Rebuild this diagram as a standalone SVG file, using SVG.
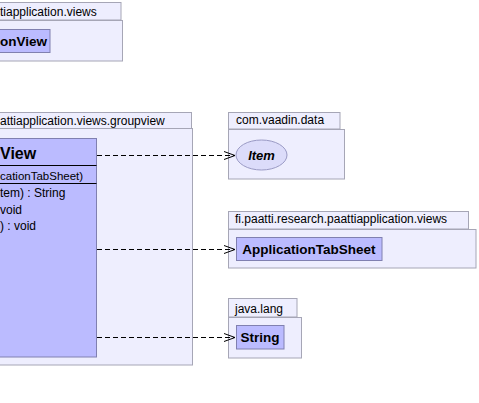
<svg xmlns="http://www.w3.org/2000/svg" width="479" height="403" viewBox="0 0 479 403">
<defs>
<style>
.pkg{fill:#eeeefe;stroke:#a6a6b6;stroke-width:1}
.cls{fill:#bbbbff;stroke:#8080b0;stroke-width:1}
.div{stroke:#000;stroke-width:1}
.lbl{font-family:"Liberation Sans",Arial,sans-serif;font-size:12px;fill:#000}
.nm{font-family:"Liberation Sans",Arial,sans-serif;font-size:13.5px;font-weight:bold;fill:#000}
.dep{fill:none;stroke:#000;stroke-width:1;stroke-dasharray:5,3}
.ah{fill:none;stroke:#000;stroke-width:1}
</style>
<marker id="open" markerWidth="12" markerHeight="10" refX="11" refY="5" orient="auto" markerUnits="userSpaceOnUse">
<path class="ah" d="M0,1 L11,5 L0,9"/>
</marker>
</defs>
<rect width="479" height="403" fill="#ffffff"/>
<g id="pkg-views-top">
<rect class="pkg" x="-5" y="2.5" width="126" height="17.5"/>
<rect class="pkg" x="-5" y="20.5" width="127.5" height="40.5"/>
<text class="lbl" x="0" y="15.5">tiapplication.views</text>
<g id="cls-onView">
<rect class="cls" x="-5" y="29.5" width="55" height="23"/>
<text class="nm" x="0" y="46">onView</text>
</g>
</g>
<g id="pkg-groupview">
<rect class="pkg" x="-5" y="112.5" width="196.5" height="16"/>
<rect class="pkg" x="-5" y="128.5" width="197.5" height="236.5"/>
<text class="lbl" x="0" y="125">attiapplication.views.groupview</text>
<g id="cls-View">
<rect class="cls" x="-5" y="138.5" width="101.5" height="218.5"/>
<text class="nm" x="0" y="159" style="font-size:16px">View</text>
<line class="div" x1="-5" y1="165.5" x2="96.5" y2="165.5"/>
<text class="lbl" x="0" y="180" style="font-size:11.5px">cationTabSheet)</text>
<line class="div" x1="-5" y1="183.5" x2="96.5" y2="183.5"/>
<text class="lbl" x="0" y="197">tem) : String</text>
<text class="lbl" x="0" y="214">void</text>
<text class="lbl" x="0" y="230">) : void</text>
</g>
</g>
<g id="pkg-vaadin">
<rect class="pkg" x="228.5" y="112.5" width="111.5" height="16.5"/>
<rect class="pkg" x="228.5" y="129.5" width="116" height="49.5"/>
<text class="lbl" x="236" y="124">com.vaadin.data</text>
<g id="cls-Item">
<ellipse cx="261.5" cy="155" rx="25.5" ry="15" fill="#dcdcfa" stroke="#9999c4"/>
<text class="nm" x="261.5" y="160" text-anchor="middle" style="font-size:13px;font-style:italic">Item</text>
</g>
</g>
<g id="pkg-views">
<rect class="pkg" x="228.5" y="211.5" width="240" height="17.5"/>
<rect class="pkg" x="228.5" y="229.5" width="247.5" height="38.5"/>
<text class="lbl" x="235" y="223">fi.paatti.research.paattiapplication.views</text>
<g id="cls-ApplicationTabSheet">
<rect class="cls" x="236.5" y="237.5" width="145.5" height="23"/>
<text class="nm" x="309" y="254" text-anchor="middle">ApplicationTabSheet</text>
</g>
</g>
<g id="pkg-javalang">
<rect class="pkg" x="228.5" y="298.5" width="68.5" height="18.5"/>
<rect class="pkg" x="228.5" y="317.5" width="73" height="40.5"/>
<text class="lbl" x="235" y="313">java.lang</text>
<g id="cls-String">
<rect class="cls" x="236.5" y="325.5" width="47.5" height="23.5"/>
<text class="nm" x="260" y="342" text-anchor="middle">String</text>
</g>
</g>
<g id="connectors">
<line class="dep" x1="97" y1="155.5" x2="235" y2="155.5" marker-end="url(#open)"/>
<line class="dep" x1="97" y1="249.5" x2="235" y2="249.5" marker-end="url(#open)"/>
<line class="dep" x1="97" y1="337.5" x2="235" y2="337.5" marker-end="url(#open)"/>
</g>
</svg>
